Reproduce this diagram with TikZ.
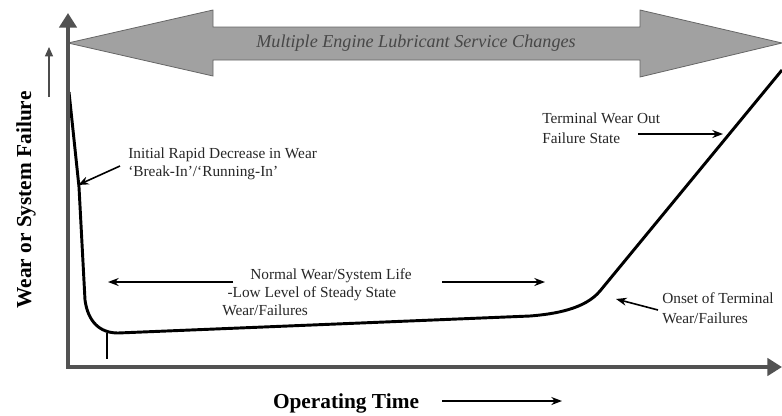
\documentclass[tikz,border=0pt]{standalone}
\usepackage{fontspec}
\setmainfont{Liberation Serif}
\usepackage{tikz}
\usetikzlibrary{arrows.meta}
\tikzstyle{axisline} = [line width=3.5pt, draw=black!68, -{Triangle[width=13pt,length=11pt]}]
\tikzstyle{arrow} = [line width=1.2pt, -{Stealth[length=8pt,width=6pt]}]
\tikzstyle{note} = [inner sep=0pt, text=black!85, font=\fontsize{11.5}{13.5}\selectfont, align=left]
\tikzstyle{axislabel} = [inner sep=0pt, font=\bfseries\fontsize{16}{18}\selectfont]
\tikzstyle{wearline} = [line width=2.2pt, line join=round]

\begin{document}
\begin{tikzpicture}[x=0.75pt,y=-0.75pt]
		\useasboundingbox (0,0) rectangle (782,415);
		% oil change arrow across the top
		\draw [fill=black!37, draw=black!60, line width=0.6pt] (68,43) -- (213,10) -- (213,27) -- (640,27) -- (640,10) -- (782,43) -- (640,77) -- (640,60) -- (213,60) -- (213,76) -- cycle;
		\node (service) [inner sep=0pt, text=black!72, font=\itshape\fontsize{13.6}{15}\selectfont] at (416,43) {Multiple Engine Lubricant Service Changes};
		% wear curve
		\draw [wearline] (69,92) -- (79,187) -- (85,300) .. controls (88,322) and (100,333) .. (118,333) -- (530,316) .. controls (555,314) and (585,309) .. (600,291) -- (782,70);
		\coordinate (low) at (107,333);
		\coordinate (lowfoot) at (107,359);
		\draw [line width=0.9pt] (low) -- (lowfoot);
		% axes
		\coordinate (o) at (68,367);
		\coordinate (ytop) at (68,13);
		\coordinate (xleft) at (66.3,367);
		\coordinate (xend) at (782,367);
		\draw [axisline] (o) -- (ytop);
		\draw [axisline] (xleft) -- (xend);
		\node (ylabel) [axislabel, rotate=90] at (26,200) {Wear or System Failure};
		\coordinate (yup1) at (49,97);
		\coordinate (yup2) at (49,47);
		\draw [arrow, draw=black!70, line width=1pt, -{Triangle[length=7pt,width=6pt]}] (yup1) -- (yup2);
		\node (xlabel) [axislabel] at (346,403) {Operating Time};
		\coordinate (xr1) at (442,401);
		\coordinate (xr2) at (562,401);
		\draw [arrow] (xr1) -- (xr2);
		% notes
		\node (breakin) [note, anchor=west] at (128,164) {Initial Rapid Decrease in Wear\\`Break-In'/`Running-In'};
		\coordinate (breakpt) at (78,185);
		\draw [arrow] ([xshift=-6pt,yshift=-1.5pt]breakin.west) -- (breakpt);
		\node (normal) [note, anchor=west] at (222,292) {\hspace*{21pt}Normal Wear/System Life\\\hspace*{4pt}-Low Level of Steady State\\Wear/Failures};
		\coordinate (nl1) at (233,282);
		\coordinate (nl2) at (108,282);
		\coordinate (nr1) at (442,282);
		\coordinate (nr2) at (545,282);
		\draw [arrow] (nl1) -- (nl2);
		\draw [arrow] (nr1) -- (nr2);
		\node (terminal) [note, anchor=west, font=\fontsize{11.5}{15}\selectfont] at (542,128) {Terminal Wear Out\\Failure State};
		\coordinate (tr1) at (638,134);
		\coordinate (tr2) at (723,134);
		\draw [arrow] (tr1) -- (tr2);
		\node (onset) [note, anchor=west, font=\fontsize{11.5}{15}\selectfont] at (662,308) {Onset of Terminal\\Wear/Failures};
		\coordinate (onpt) at (616,299);
		\draw [arrow] ([xshift=-3pt,yshift=-1.5pt]onset.west) -- (onpt);
\end{tikzpicture}
\end{document}
